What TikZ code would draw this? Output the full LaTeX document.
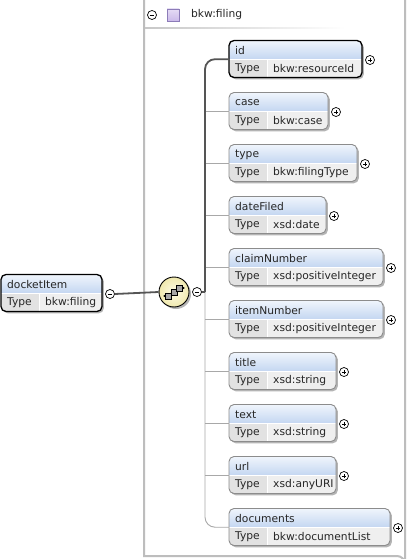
\documentclass[tikz,border=0pt]{standalone}
\usepackage{fontspec}
\setmainfont{DejaVu Sans}
\definecolor{hdtop}{HTML}{F0F5FC}
\definecolor{hdbot}{HTML}{C3D6F1}
\definecolor{typelab}{HTML}{E2E2E2}
\definecolor{typeval}{HTML}{EFEFEF}
\definecolor{bordergray}{HTML}{8C8C8C}
\definecolor{shadowc}{HTML}{B4B4B4}
\definecolor{connthin}{HTML}{A8A8A8}
\definecolor{connthick}{HTML}{555555}
\definecolor{framec}{HTML}{BDBDBD}
\definecolor{seqin}{HTML}{FDFBE6}
\definecolor{seqout}{HTML}{F0E9AE}
\definecolor{purplefill}{HTML}{CBB9EA}
\definecolor{purpleline}{HTML}{8C7CB8}
\tikzset{
  txt/.style={anchor=west,inner sep=0pt,font=\fontsize{10.7}{12}\selectfont,text=black!85},
  pm/.style={circle,draw=black,line width=0.7pt,fill=white,minimum size=9pt,inner sep=0pt},
  slot/.style={inner sep=0pt,anchor=north west},
  thinconn/.style={draw=connthin,line width=0.9pt},
  thickconn/.style={draw=connthick,line width=1.8pt},
  normalborder/.style={draw=bordergray,line width=0.9pt},
  keyborder/.style={draw=black,line width=1.3pt},
}
% #1 name, #2 left, #3 top, #4 right, #5 title, #6 type, #7 border style, #8 sign
\newcommand\elembox[8]{%
  \fill[shadowc,rounded corners=5pt] (#2+1.8,#3+1.8) rectangle (#4+1.8,#3+38.8);
  \begin{scope}
    \clip[rounded corners=5pt] (#2,#3) rectangle (#4,#3+37);
    \shade[top color=hdtop,bottom color=hdbot] (#2,#3) rectangle (#4,#3+19);
    \fill[typelab] (#2,#3+19) rectangle (#2+38,#3+37);
    \fill[typeval] (#2+38,#3+19) rectangle (#4,#3+37);
  \end{scope}
  \draw[white,line width=1pt] (#2+38,#3+19.5) -- (#2+38,#3+37);
  \draw[white,line width=0.8pt] (#2,#3+19) -- (#4,#3+19);
  \draw[#7,rounded corners=5pt] (#2,#3) rectangle (#4,#3+37);
  \node[slot,minimum width={(#4-#2)*1pt},minimum height=37pt] (#1) at (#2,#3) {};
  \node[txt] (#1-name) at (#2+6,#3+10) {#5};
  \node[txt] (#1-tl) at (#2+6,#3+28.5) {Type};
  \node[txt] (#1-tv) at (#2+44,#3+28.5) {#6};
  \node[pm] (#1-pm) at (#4+8,#3+19.5) {};
  \draw[line width=0.7pt] ([xshift=-2.4pt]#1-pm.center) -- ([xshift=2.4pt]#1-pm.center);
  \if#8p\draw[line width=0.7pt] ([yshift=-2.4pt]#1-pm.center) -- ([yshift=2.4pt]#1-pm.center);\fi
}
\begin{document}
\begin{tikzpicture}[x=1pt,y=-1pt]
\useasboundingbox (0,0) rectangle (407,559);
\fill[white] (0,0) rectangle (407,559);
% outer frame of the complex type
\draw[framec,line width=2pt] (144,-2) -- (144,556) -- (397,556) arc[start angle=270,end angle=360,radius=8] -- (405,-2);
% header
\node[pm] (hdm) at (152,15) {};
\draw[line width=0.7pt] ([xshift=-2.4pt]hdm.center) -- ([xshift=2.4pt]hdm.center);
\node[draw=purpleline,line width=0.8pt,top color=white!50!purplefill,bottom color=purplefill,minimum size=12pt,inner sep=0pt] (hdsq) at (173,15) {};
\node[txt] (hdtxt) at (191,15) {bkw:filing};
\shade[left color=black!22,right color=white] (145,27.5) rectangle (345,29);
% elements
\elembox{id}{229}{40.5}{362}{id}{bkw:resourceId}{keyborder}{p}
\elembox{case}{229}{92.5}{328}{case}{bkw:case}{normalborder}{p}
\elembox{type}{229}{144.5}{357}{type}{bkw:filingType}{normalborder}{p}
\elembox{dateFiled}{229}{196.5}{326}{dateFiled}{xsd:date}{normalborder}{p}
\elembox{claimNumber}{229}{248.5}{383}{claimNumber}{xsd:positiveInteger}{normalborder}{p}
\elembox{itemNumber}{229}{300.5}{383}{itemNumber}{xsd:positiveInteger}{normalborder}{p}
\elembox{title}{229}{352.5}{336}{title}{xsd:string}{normalborder}{p}
\elembox{text}{229}{404.5}{336}{text}{xsd:string}{normalborder}{p}
\elembox{url}{229}{456.5}{336}{url}{xsd:anyURI}{normalborder}{p}
\elembox{documents}{229}{508.5}{390}{documents}{bkw:documentList}{normalborder}{p}
% root element
\elembox{docket}{1}{274.5}{102}{docketItem}{bkw:filing}{keyborder}{m}
% sequence compositor
\node[circle,fill=shadowc,minimum size=30pt,inner sep=0pt] (seqsh) at (176,294) {};
\node[circle,draw=black,line width=0.9pt,inner color=seqin,outer color=seqout,minimum size=30pt,inner sep=0pt] (seq) at (174,292) {};
\node[pm] (seqm) at (197,292) {};
\draw[line width=0.7pt] ([xshift=-2.4pt]seqm.center) -- ([xshift=2.4pt]seqm.center);
% sequence icon
\draw[line width=0.6pt] (164,296) -- (184,288);
\fill (164.5,296) circle (1.2pt);
\fill (183.5,288) circle (1.2pt);
\draw[line width=0.6pt,fill=black!35] (165.5,293) rectangle (171.5,299);
\draw[line width=0.6pt,fill=black!35] (171,289) rectangle (177,295);
\draw[line width=0.6pt,fill=black!35] (176.5,285) rectangle (182.5,291);
% connectors
\coordinate (trunk) at (205,292);
\draw[thickconn] (docket-pm.east) -- (seq.west);
\foreach \e in {case,type,dateFiled,claimNumber,itemNumber,title,text,url}
  \draw[thinconn] (trunk |- \e.west) -- (\e.west);
\draw[thinconn,rounded corners=10pt] (trunk) |- (documents.west);
\draw[thickconn] (seqm.east) -- (trunk);
\draw[thickconn,rounded corners=10pt] (trunk) |- (id.west);
\end{tikzpicture}
\end{document}
